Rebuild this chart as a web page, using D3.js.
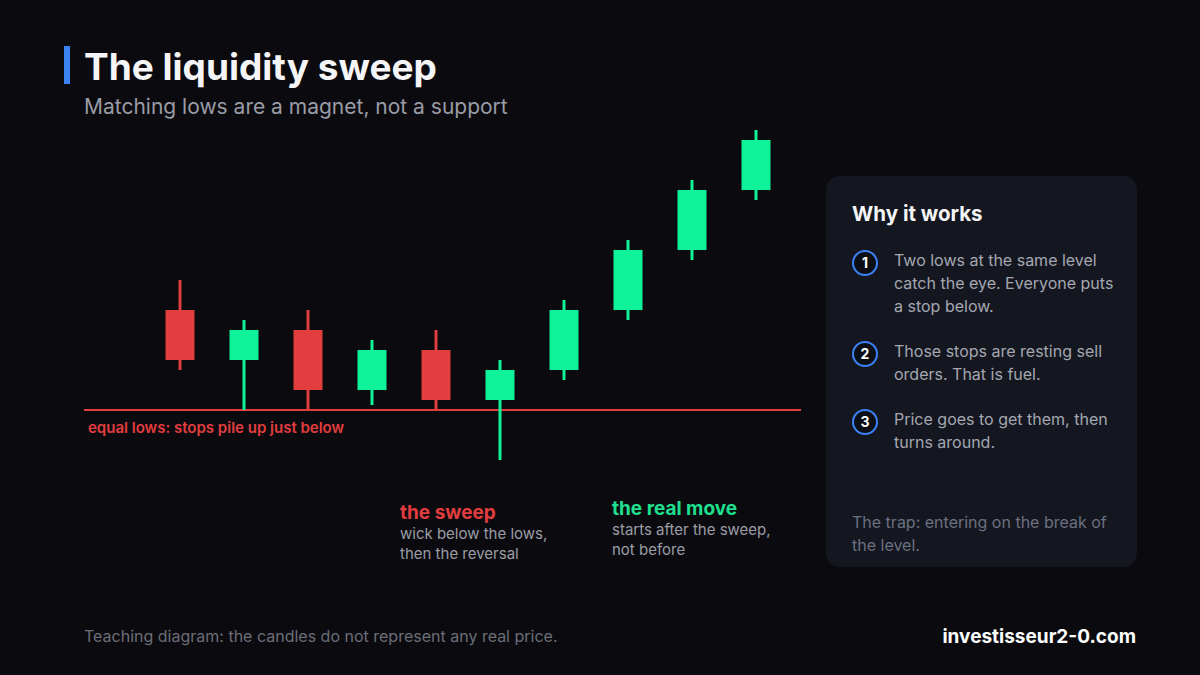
<!DOCTYPE html>
<html>
<head>
<meta charset="utf-8">
<script src="https://cdn.jsdelivr.net/npm/d3@7"></script>
<style>
  html, body { margin: 0; padding: 0; background: #0b0b0f; }
  svg { display: block; font-family: Inter, "Noto Sans", sans-serif; }
</style>
</head>
<body>
<div id="chart"></div>
<script>
// candle data (teaching diagram, arbitrary units)
var opens  = [110, 105, 108, 102, 106, 101, 104, 110, 116, 122];
var closes = [105, 108, 102, 106, 101, 104, 110, 116, 122, 127];
var highs  = [113, 109, 110, 107, 108, 105, 111, 117, 123, 128];
var lows   = [104, 100, 100, 100.5, 100, 95, 103, 109, 115, 121];
var equalLow = 100;

var steps = [
  ["Two lows at the same level", "catch the eye. Everyone puts", "a stop below."],
  ["Those stops are resting sell", "orders. That is fuel."],
  ["Price goes to get them, then", "turns around."]
];

var W = 1200, H = 675;
var red = "#e23d3f", green = "#0ef29a", blue = "#3b82f6";

var svg = d3.select("#chart").append("svg")
    .attr("width", W)
    .attr("height", H);

svg.append("rect").attr("width", W).attr("height", H).attr("fill", "#0b0b0f");

// title
svg.append("rect").attr("x", 64).attr("y", 46).attr("width", 6).attr("height", 38).attr("fill", blue);
svg.append("text").attr("x", 84).attr("y", 80)
    .attr("fill", "#f5f5f7").attr("font-size", 37).attr("font-weight", 700)
    .text("The liquidity sweep");
svg.append("text").attr("x", 84).attr("y", 114)
    .attr("fill", "#9a9ca6").attr("font-size", 21)
    .text("Matching lows are a magnet, not a support");

// scales
var x = d3.scaleLinear().domain([0, 9]).range([180, 756]);
var y = d3.scaleLinear().domain([95, 128]).range([460, 130]);
var bodyW = 29;

// equal lows line
svg.append("line")
    .attr("x1", 84).attr("x2", 801)
    .attr("y1", y(equalLow)).attr("y2", y(equalLow))
    .attr("stroke", red).attr("stroke-width", 2);
svg.append("text").attr("x", 88).attr("y", y(equalLow) + 23)
    .attr("fill", red).attr("font-size", 15).attr("font-weight", 600)
    .text("equal lows: stops pile up just below");

var candles = opens.map(function (o, i) {
  return { i: i, o: o, c: closes[i], h: highs[i], l: lows[i] };
});

var g = svg.append("g");
g.selectAll("line.wick")
  .data(candles)
  .enter()
  .append("line")
    .attr("class", "wick")
    .attr("x1", function (d) { return x(d.i); })
    .attr("x2", function (d) { return x(d.i); })
    .attr("y1", function (d) { return y(d.h); })
    .attr("y2", function (d) { return y(d.l); })
    .attr("stroke", function (d) { return d.c >= d.o ? green : red; })
    .attr("stroke-width", 3);

g.selectAll("rect.body")
  .data(candles)
  .enter()
  .append("rect")
    .attr("class", "body")
    .attr("x", function (d) { return x(d.i) - bodyW / 2; })
    .attr("width", bodyW)
    .attr("y", function (d) { return y(Math.max(d.o, d.c)); })
    .attr("height", function (d) { return y(Math.min(d.o, d.c)) - y(Math.max(d.o, d.c)); })
    .attr("fill", function (d) { return d.c >= d.o ? green : red; });

// annotations
function note(x0, y0, title, color, lines) {
  svg.append("text").attr("x", x0).attr("y", y0)
      .attr("fill", color).attr("font-size", 19).attr("font-weight", 700)
      .text(title);
  lines.forEach(function (t, k) {
    svg.append("text").attr("x", x0).attr("y", y0 + 20 + k * 20)
        .attr("fill", "#9b9da6").attr("font-size", 15)
        .text(t);
  });
}
note(400, 519, "the sweep", red, ["wick below the lows,", "then the reversal"]);
note(612, 515, "the real move", "#1ee08f", ["starts after the sweep,", "not before"]);

// side panel
var px = 826, py = 176;
svg.append("rect").attr("x", px).attr("y", py).attr("width", 311).attr("height", 391)
    .attr("rx", 14).attr("fill", "#141720");
svg.append("text").attr("x", 852).attr("y", 221)
    .attr("fill", "#f5f5f7").attr("font-size", 20.5).attr("font-weight", 700)
    .text("Why it works");

var stepY = [263, 354, 422];
steps.forEach(function (lines, k) {
  var cy = stepY[k];
  svg.append("circle").attr("cx", 865).attr("cy", cy).attr("r", 12)
      .attr("fill", "#0d0f16").attr("stroke", blue).attr("stroke-width", 2);
  svg.append("text").attr("x", 865).attr("y", cy + 5)
      .attr("text-anchor", "middle").attr("fill", "#ffffff")
      .attr("font-size", 14).attr("font-weight", 700)
      .text(k + 1);
  lines.forEach(function (t, j) {
    svg.append("text").attr("x", 894).attr("y", cy + 3 + j * 23)
        .attr("fill", "#a4a7b1").attr("font-size", 16)
        .text(t);
  });
});

svg.append("text").attr("x", 852).attr("y", 528)
    .attr("fill", "#6c7080").attr("font-size", 16)
    .text("The trap: entering on the break of");
svg.append("text").attr("x", 852).attr("y", 551)
    .attr("fill", "#6c7080").attr("font-size", 16)
    .text("the level.");

// footer
svg.append("text").attr("x", 84).attr("y", 642)
    .attr("fill", "#6b6e78").attr("font-size", 16)
    .text("Teaching diagram: the candles do not represent any real price.");
svg.append("text").attr("x", 1136).attr("y", 643)
    .attr("text-anchor", "end").attr("fill", "#ffffff")
    .attr("font-size", 19).attr("font-weight", 700)
    .text("investisseur2-0.com");
</script>
</body>
</html>
